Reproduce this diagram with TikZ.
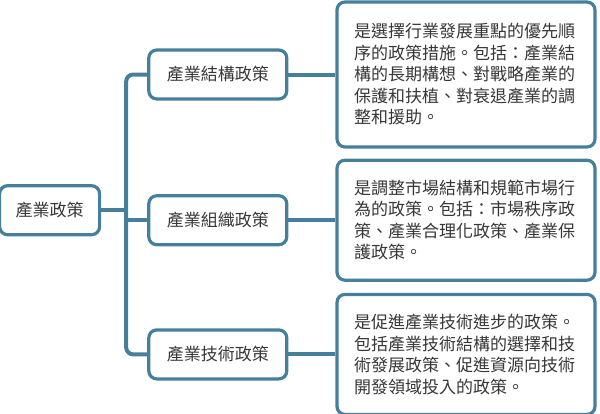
\documentclass[tikz,border=0pt]{standalone}
\usepackage{fontspec}
\newfontfamily\cjkfont{Noto Sans CJK TC}
\usepackage{tikz}
\usetikzlibrary{positioning}
\definecolor{mapblue}{RGB}{70,127,156}
\definecolor{maptext}{RGB}{55,55,55}

\begin{document}
\begin{tikzpicture}[
    x=1pt, y=1pt, % one unit is one pixel of the layout
    box/.style={
        draw=mapblue,
        line width=3.2pt,
        rounded corners=8pt,
        fill=white,
        text=maptext,
        font=\cjkfont\fontsize{17}{21.5}\selectfont,
        minimum height=49pt,
        inner sep=0pt
    },
    topic/.style={
        box,
        minimum width=138pt
    },
    note/.style={
        box,
        text width=224pt,
        inner xsep=17pt,
        align=left
    },
    link/.style={
        draw=mapblue,
        line width=4pt,
        rounded corners=7pt
    }
]
    \useasboundingbox (0,0) rectangle (600,-413);

    % --- Notes on the right, stacked from top to bottom ---
    \node[note, minimum height=145pt] (struct-note) at (466,-74.5)
        {是選擇行業發展重點的優先順\\序的政策措施。包括：產業結\\構的長期構想、對戰略產業的\\保護和扶植、對衰退產業的調\\整和援助。};
    \node[note, minimum height=120pt, below=10pt of struct-note] (org-note)
        {是調整市場結構和規範市場行\\為的政策。包括：市場秩序政\\策、產業合理化政策、產業保\\護政策。};
    \node[note, minimum height=120pt, below=11pt of org-note] (tech-note)
        {是促進產業技術進步的政策。\\包括產業技術結構的選擇和技\\術發展政策、促進資源向技術\\開發領域投入的政策。};

    % --- Policy branches and the root ---
    \node[topic, left=47pt of struct-note] (struct) {產業結構政策};
    \node[topic, left=47pt of org-note]    (org)    {產業組織政策};
    \node[topic, left=47pt of tech-note]   (tech)   {產業技術政策};
    \node[box, minimum width=100pt, left=46pt of org, yshift=10pt] (root) {產業政策};
    \coordinate[right=25pt of root] (fork);

    % --- Connectors ---
    \draw[link] (struct.west) -| (fork) |- (tech.west);
    \draw[link] (root) -- (fork);
    \draw[link] (fork |- org.west) -- (org.west);
    \draw[link] (struct) -- (struct-note);
    \draw[link] (org) -- (org-note);
    \draw[link] (tech) -- (tech-note);
\end{tikzpicture}
\end{document}
